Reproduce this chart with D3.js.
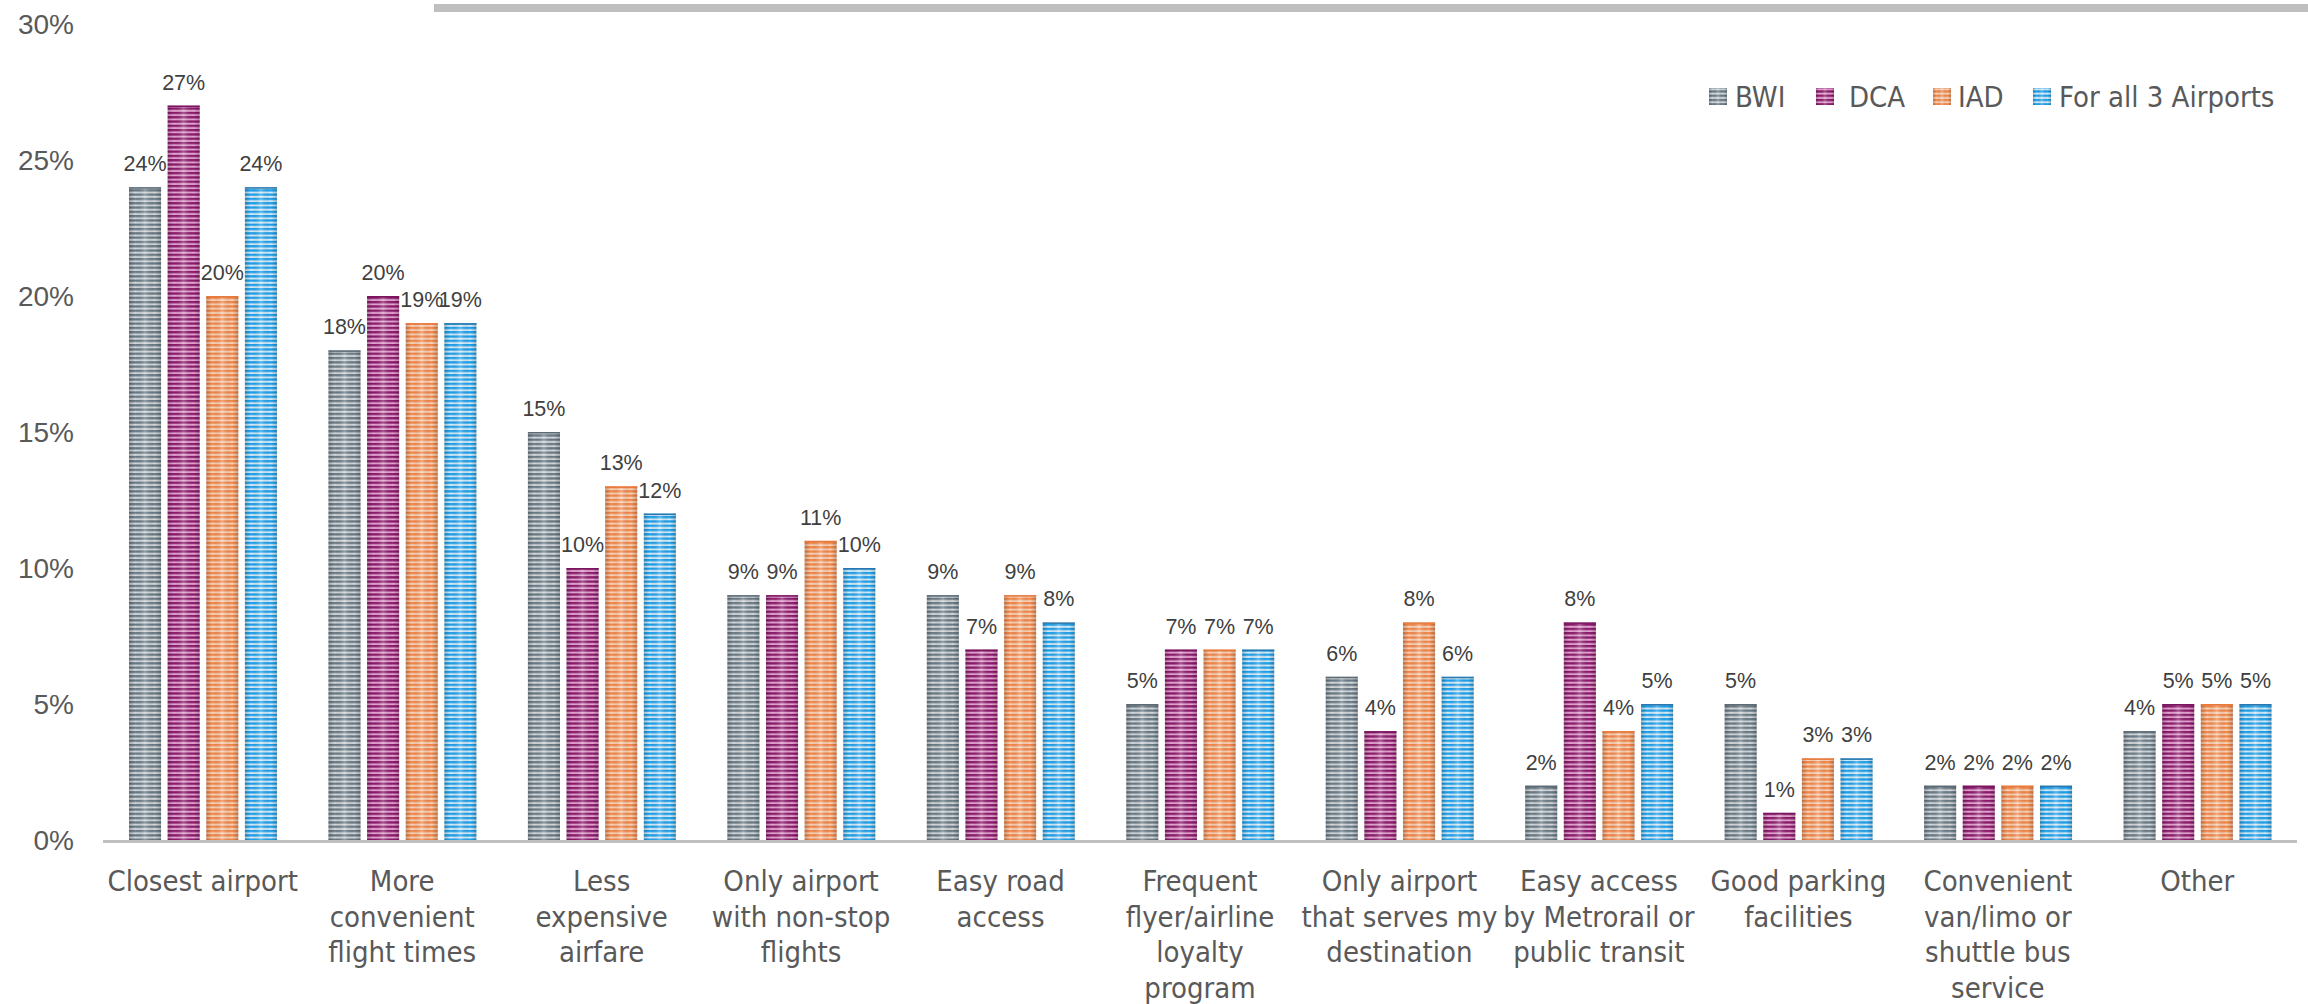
<!DOCTYPE html>
<html>
<head>
<meta charset="utf-8">
<script src="https://cdn.jsdelivr.net/npm/d3@7/dist/d3.min.js"></script>
<style>
  body { margin: 0; background: #fff; }
  svg { display: block; }
  .cat { font-family: 'DejaVu Sans Condensed', 'Liberation Sans', sans-serif; font-size: 29px; fill: #595959; }
  .leg { font-family: 'DejaVu Sans Condensed', 'Liberation Sans', sans-serif; font-size: 29px; fill: #595959; }
  .tick { font-family: 'Liberation Sans', Arial, sans-serif; font-size: 28px; fill: #595959; }
  .lbl { font-family: 'Liberation Sans', Arial, sans-serif; font-size: 21.5px; fill: #404040; }
</style>
</head>
<body>
<svg id="chart" width="2308" height="1004"></svg>
<script>
// categories (line breaks as in the original axis)
var categories = [
  "Closest airport",
  "More\nconvenient\nflight times",
  "Less\nexpensive\nairfare",
  "Only airport\nwith non-stop\nflights",
  "Easy road\naccess",
  "Frequent\nflyer/airline\nloyalty\nprogram",
  "Only airport\nthat serves my\ndestination",
  "Easy access\nby Metrorail or\npublic transit",
  "Good parking\nfacilities",
  "Convenient\nvan/limo or\nshuttle bus\nservice",
  "Other"
];
var seriesNames = ["BWI", "DCA", "IAD", "For all 3 Airports"];
var bwi = [24, 18, 15, 9, 9, 5, 6, 2, 5, 2, 4];
var dca = [27, 20, 10, 9, 7, 7, 4, 8, 1, 2, 5];
var iad = [20, 19, 13, 11, 9, 7, 8, 4, 3, 2, 5];
var all3 = [24, 19, 12, 10, 8, 7, 6, 5, 3, 2, 5];
var yTicks = [0, 5, 10, 15, 20, 25, 30];

var seriesValues = [bwi, dca, iad, all3];
// dark / light stripe colours per series
var stripeDark = ["#6c7c87", "#8d1b6c", "#f5884a", "#1ea2ee"];
var stripeLight = ["#d3d9dd", "#e6a3d3", "#fdd3b6", "#d4eefc"];
var edgeCol = ["#5d6b75", "#7a1560", "#e8793c", "#2a78ad"];

var svg = d3.select("#chart");
var defs = svg.append("defs");

seriesNames.forEach(function(s, i) {
  var p = defs.append("pattern")
      .attr("id", "pat" + i)
      .attr("patternUnits", "userSpaceOnUse")
      .attr("width", 10)
      .attr("height", 4.3);
  p.append("rect").attr("width", 10).attr("height", 4.3).attr("fill", stripeLight[i]);
  p.append("rect").attr("width", 10).attr("height", 2.3).attr("fill", stripeDark[i]);
});

var grad = defs.append("linearGradient").attr("id", "shade")
    .attr("x1", 0).attr("x2", 1).attr("y1", 0).attr("y2", 0);
grad.append("stop").attr("offset", "0%").attr("stop-color", "#000").attr("stop-opacity", 0.22);
grad.append("stop").attr("offset", "20%").attr("stop-color", "#000").attr("stop-opacity", 0);
grad.append("stop").attr("offset", "50%").attr("stop-color", "#fff").attr("stop-opacity", 0.25);
grad.append("stop").attr("offset", "80%").attr("stop-color", "#000").attr("stop-opacity", 0);
grad.append("stop").attr("offset", "100%").attr("stop-color", "#000").attr("stop-opacity", 0.22);

var x0 = d3.scaleBand().domain(d3.range(categories.length)).range([103, 2297]);
var x1 = d3.scaleBand().domain(d3.range(seriesNames.length))
    .range([26, x0.bandwidth() - 25.5]).paddingInner(0.17);
var y = d3.scaleLinear().domain([0, 30]).range([840, 24]);

// top decorative rule
svg.append("rect").attr("x", 434).attr("y", 4).attr("width", 2308 - 434).attr("height", 8).attr("fill", "#bfbfbf");

// y axis labels
svg.append("g").selectAll("text")
  .data(yTicks)
  .enter().append("text")
    .attr("class", "tick")
    .attr("x", 74)
    .attr("y", function(d) { return y(d); })
    .attr("dy", "0.36em")
    .attr("text-anchor", "end")
    .text(function(d) { return d + "%"; });

// bars
var groups = svg.append("g").selectAll("g")
  .data(categories)
  .enter().append("g")
    .attr("transform", function(d, i) { return "translate(" + x0(i) + ",0)"; });

groups.each(function(c, ci) {
  var g = d3.select(this);
  seriesValues.forEach(function(vals, si) {
    var v = vals[ci];
    var bx = x1(si), bw = x1.bandwidth();
    g.append("rect")
      .attr("x", bx).attr("y", y(v))
      .attr("width", bw).attr("height", y(0) - y(v))
      .attr("fill", "url(#pat" + si + ")");
    g.append("rect")
      .attr("x", bx).attr("y", y(v))
      .attr("width", bw).attr("height", y(0) - y(v))
      .attr("fill", "url(#shade)");
    g.append("rect")
      .attr("x", bx).attr("y", y(v))
      .attr("width", bw).attr("height", 1.5)
      .attr("fill", edgeCol[si]);
    g.append("text")
      .attr("class", "lbl")
      .attr("x", bx + bw / 2)
      .attr("y", y(v) - 16)
      .attr("text-anchor", "middle")
      .text(v + "%");
  });
});

// baseline
svg.append("line")
  .attr("x1", x0.range()[0]).attr("x2", x0.range()[1])
  .attr("y1", y(0) + 1.5).attr("y2", y(0) + 1.5)
  .attr("stroke", "#c0c0c0").attr("stroke-width", 3);

// category labels
var cat = svg.append("g").selectAll("text")
  .data(categories)
  .enter().append("text")
    .attr("class", "cat")
    .attr("text-anchor", "middle")
    .attr("transform", function(d, i) { return "translate(" + (x0(i) + x0.bandwidth() / 2) + ",891)"; });
cat.each(function(d) {
  var t = d3.select(this);
  d.split("\n").forEach(function(line, li) {
    t.append("tspan").attr("x", 0).attr("y", li * 35.5).text(line);
  });
});

// legend
var legSwX = [1709, 1816, 1933, 2033];
var legTxX = [1735, 1849, 1958, 2059];
var leg = svg.append("g").selectAll("g")
  .data(seriesNames)
  .enter().append("g");
leg.append("rect")
  .attr("x", function(d, i) { return legSwX[i]; })
  .attr("y", 88).attr("width", 18).attr("height", 17)
  .attr("fill", function(d, i) { return "url(#pat" + i + ")"; });
leg.append("rect")
  .attr("x", function(d, i) { return legSwX[i]; })
  .attr("y", 88).attr("width", 18).attr("height", 17)
  .attr("fill", "url(#shade)");
leg.append("text")
  .attr("class", "leg")
  .attr("x", function(d, i) { return legTxX[i]; })
  .attr("y", 96.5)
  .attr("dy", "0.36em")
  .text(function(d) { return d; });
</script>
</body>
</html>
